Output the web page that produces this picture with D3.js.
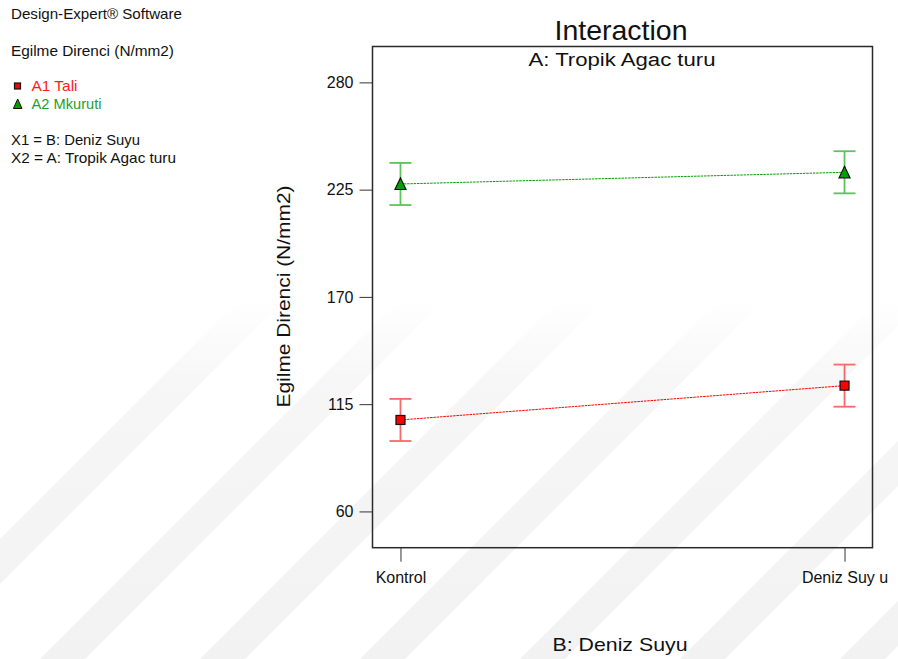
<!DOCTYPE html>
<html>
<head>
<meta charset="utf-8">
<script src="https://cdn.jsdelivr.net/npm/d3@7"></script>
<style>
  html, body { margin: 0; padding: 0; background: #ffffff; }
  svg { display: block; font-family: "Liberation Sans", Arial, sans-serif; }
</style>
</head>
<body>
<svg id="chart" width="898" height="659"></svg>
<script>
// Factor levels of B: Deniz Suyu (x axis)
const categories = ["Kontrol", "Deniz Suyu"];
const tickLabels = ["Kontrol", "Deniz Suy u"];

// Factor levels of A: Tropik Agac turu (one line each)
const seriesNames = ["A1 Tali", "A2 Mkuruti"];
const taliValues = [106.9, 124.5];
const mkurutiValues = [227.9, 233.9];
// LSD half-widths of the error bars
const taliErr = [10.8, 10.8];
const mkurutiErr = [10.8, 10.8];

// Y axis
const yTicks = [60, 115, 170, 225, 280];
const yDomain = [41.4, 298.4];

const series = [
  { name: seriesNames[0], values: taliValues, err: taliErr, color: "#ff0000", barColor: "#f76a6a", fill: "#ff0000", text: "#ff1a1a", shape: "square", labelLen: 46 },
  { name: seriesNames[1], values: mkurutiValues, err: mkurutiErr, color: "#00a000", barColor: "#5cc45c", fill: "#00a000", text: "#1fa01f", shape: "triangle", labelLen: 70 }
];

const svg = d3.select("#chart");
const plot = { left: 372.5, right: 872.5, top: 46.5, bottom: 547.7 };

// faint diagonal background bands, fading out upward
const defs = svg.append("defs");
const grad = defs.append("linearGradient").attr("id", "bandFade")
  .attr("gradientUnits", "userSpaceOnUse").attr("x1", 0).attr("y1", 659).attr("x2", 0).attr("y2", 300);
grad.append("stop").attr("offset", 0).attr("stop-color", "#f2f2f2");
grad.append("stop").attr("offset", 0.75).attr("stop-color", "#f6f6f6");
grad.append("stop").attr("offset", 1).attr("stop-color", "#ffffff");
const bands = svg.append("g").attr("fill", "url(#bandFade)");
const bandStarts = [-120, 40, 200, 360, 520, 680, 840];
bandStarts.forEach(b => {
  bands.append("polygon")
    .attr("points", `${b},659 ${b + 45},659 ${b + 45 + 359},300 ${b + 359},300`);
});

const x = d3.scalePoint().domain(categories).range([plot.left, plot.right]).padding(0.063);
const y = d3.scaleLinear().domain(yDomain).range([plot.bottom, plot.top]);

// plot frame
svg.append("rect")
  .attr("x", plot.left).attr("y", plot.top)
  .attr("width", plot.right - plot.left).attr("height", plot.bottom - plot.top)
  .attr("fill", "none").attr("stroke", "#2a2a2a").attr("stroke-width", 1.5);

// y axis
const yAxis = d3.axisLeft(y).tickValues(yTicks).tickSize(13).tickPadding(6).tickFormat(d3.format("d"));
const gy = svg.append("g").attr("transform", `translate(${plot.left},0)`).call(yAxis);
gy.select(".domain").remove();
gy.selectAll(".tick line").attr("stroke", "#333").attr("stroke-width", 1);
gy.selectAll(".tick text").attr("font-size", 16).attr("fill", "#111")
  .attr("font-family", "'Liberation Sans', Arial, sans-serif");

// x axis
const xAxis = d3.axisBottom(x).tickSize(14).tickPadding(10).tickFormat((d, i) => tickLabels[i]);
const gx = svg.append("g").attr("transform", `translate(0,${plot.bottom})`).call(xAxis);
gx.select(".domain").remove();
gx.selectAll(".tick line").attr("stroke", "#333").attr("stroke-width", 1);
gx.selectAll(".tick text").attr("font-size", 16).attr("fill", "#111")
  .attr("font-family", "'Liberation Sans', Arial, sans-serif")
  .attr("dy", "0.71em");

// titles
svg.append("text").attr("x", 621).attr("y", 40).attr("text-anchor", "middle")
  .attr("font-size", 28).attr("fill", "#111")
  .attr("textLength", 133).attr("lengthAdjust", "spacingAndGlyphs").text("Interaction");
svg.append("text").attr("x", 622).attr("y", 66).attr("text-anchor", "middle")
  .attr("font-size", 18).attr("fill", "#111")
  .attr("textLength", 187).attr("lengthAdjust", "spacingAndGlyphs").text("A: Tropik Agac turu");
svg.append("text").attr("x", 620).attr("y", 651).attr("text-anchor", "middle")
  .attr("font-size", 19).attr("fill", "#111")
  .attr("textLength", 135).attr("lengthAdjust", "spacingAndGlyphs").text("B: Deniz Suyu");
svg.append("text").attr("transform", "translate(290,296.5) rotate(-90)").attr("text-anchor", "middle")
  .attr("font-size", 19).attr("fill", "#111")
  .attr("textLength", 222).attr("lengthAdjust", "spacingAndGlyphs").text("Egilme Direnci (N/mm2)");

// series
const line = d3.line().x((d, i) => x(categories[i])).y(d => y(d));
series.forEach(s => {
  const g = svg.append("g");
  // error bars
  s.values.forEach((v, i) => {
    const cx = x(categories[i]);
    const lo = y(v - s.err[i]), hi = y(v + s.err[i]);
    g.append("line").attr("x1", cx).attr("x2", cx).attr("y1", lo).attr("y2", hi)
      .attr("stroke", s.barColor).attr("stroke-width", 1.8);
    [lo, hi].forEach(yy => g.append("line").attr("x1", cx - 11).attr("x2", cx + 11)
      .attr("y1", yy).attr("y2", yy).attr("stroke", s.barColor).attr("stroke-width", 1.8));
  });
  // connecting line
  g.append("path").datum(s.values).attr("d", line)
    .attr("fill", "none").attr("stroke", s.color).attr("stroke-width", 1)
    .attr("stroke-dasharray", "2.5,0.8");
  // markers
  s.values.forEach((v, i) => {
    const cx = x(categories[i]), cy = y(v);
    if (s.shape === "square") {
      g.append("rect").attr("x", cx - 4.5).attr("y", cy - 4.5).attr("width", 9).attr("height", 9)
        .attr("fill", s.fill).attr("stroke", "#111").attr("stroke-width", 1.2);
    } else {
      g.append("path").attr("d", `M${cx},${cy - 6} L${cx + 5.5},${cy + 5.5} L${cx - 5.5},${cy + 5.5} Z`)
        .attr("fill", s.fill).attr("stroke", "#111").attr("stroke-width", 1.2);
    }
  });
});

// info / legend panel
const info = svg.append("g").attr("font-size", 14.5).attr("fill", "#111");
info.append("text").attr("x", 11).attr("y", 19).attr("textLength", 171).attr("lengthAdjust", "spacingAndGlyphs").text("Design-Expert® Software");
info.append("text").attr("x", 11).attr("y", 56).attr("textLength", 163).attr("lengthAdjust", "spacingAndGlyphs").text("Egilme Direnci (N/mm2)");
const leg = svg.append("g");
series.forEach((s, i) => {
  const ly = 86 + i * 17.5;
  if (s.shape === "square") {
    leg.append("rect").attr("x", 14.5).attr("y", ly - 3).attr("width", 6).attr("height", 6)
      .attr("fill", s.fill).attr("stroke", "#111").attr("stroke-width", 1.2);
  } else {
    leg.append("path").attr("d", `M17.7,${ly - 4.5} L22,${ly + 5} L13.4,${ly + 5} Z`)
      .attr("fill", s.fill).attr("stroke", "#111").attr("stroke-width", 1);
  }
  leg.append("text").attr("x", 31.5).attr("y", ly + 5).attr("font-size", 14.5)
    .attr("textLength", s.labelLen).attr("lengthAdjust", "spacingAndGlyphs")
    .attr("fill", s.text).text(s.name);
});
info.append("text").attr("x", 11).attr("y", 145).attr("textLength", 129).attr("lengthAdjust", "spacingAndGlyphs").text("X1 = B: Deniz Suyu");
info.append("text").attr("x", 11).attr("y", 162.5).attr("textLength", 165).attr("lengthAdjust", "spacingAndGlyphs").text("X2 = A: Tropik Agac turu");
</script>
</body>
</html>
